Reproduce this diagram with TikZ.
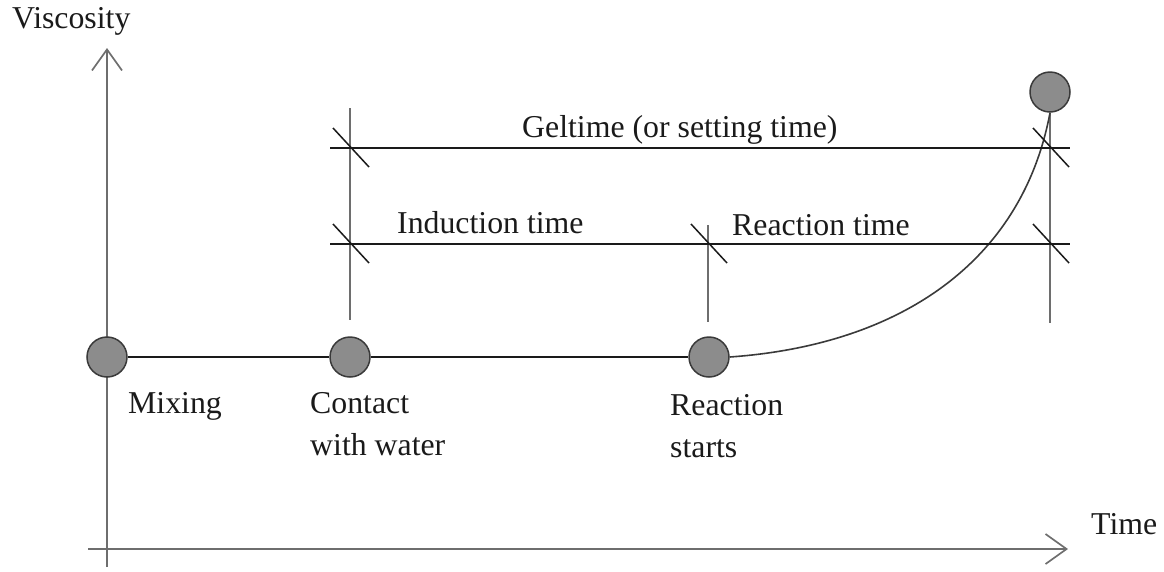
\documentclass[tikz,border=0pt]{standalone}
\usepackage{fontspec}
\setmainfont{Liberation Serif}
\usetikzlibrary{arrows.meta}
\definecolor{axisgray}{HTML}{6E6E6E}
\definecolor{dotfill}{HTML}{8C8C8C}
\definecolor{dotline}{HTML}{3A3A3A}
\definecolor{inkdark}{HTML}{1A1A1A}
\begin{document}
\begin{tikzpicture}[x=1pt,y=-1pt,
  axis/.style={draw=axisgray,line width=2pt,-{Straight Barb[length=21pt,width=30pt,line width=1.7pt]}},
  guide/.style={draw=axisgray,line width=2pt},
  dimline/.style={draw=inkdark,line width=1.5pt},
  tick/.style={draw=inkdark,line width=1.5pt},
  curveline/.style={draw=dotline,line width=1.6pt},
  event/.style={circle,fill=dotfill,draw=dotline,line width=1.5pt,minimum size=40pt,inner sep=0pt},
  lbl/.style={anchor=base west,inner sep=0pt,text=inkdark,font=\fontsize{31.8}{42}\selectfont}]
\useasboundingbox (0,0) rectangle (1164,571);
% axes
\coordinate (yb) at (107,567);
\coordinate (yt) at (107,48);
\coordinate (xl) at (88,549);
\coordinate (xr) at (1068,549);
\draw[axis] (yb) -- (yt);
\draw[axis] (xl) -- (xr);
\node[lbl] (vis) at (12,28) {Viscosity};
\node[lbl] (time) at (1091,534) {Time};
% guide verticals
\coordinate (cT) at (350,108);
\coordinate (cB) at (350,320);
\coordinate (rT) at (708,225);
\coordinate (rB) at (708,322);
\coordinate (gB) at (1050,323);
% event dots
\node[event] (mix) at (107,357) {};
\node[event] (con) at (350,357) {};
\node[event] (rea) at (709,357) {};
\node[event] (gel) at (1050,92) {};
\draw[guide] (cT) -- (cB);
\draw[guide] (rT) -- (rB);
\draw[guide] (gel.south) -- (gB);
% baseline and curve
\draw[dimline] (mix) -- (con) -- (rea);
\draw[curveline] (rea.east) .. controls (900,345) and (1022,262) .. (gel.south);
% dimension lines
\coordinate (g1) at (330,148);
\coordinate (g2) at (1070,148);
\coordinate (i1) at (330,244);
\coordinate (i2) at (1070,244);
\draw[dimline] (g1) -- (g2);
\draw[dimline] (i1) -- (i2);
% ticks
\coordinate (tg1) at (350,148);
\coordinate (tg2) at (1050,148);
\coordinate (ti1) at (350,244);
\coordinate (ti2) at (708,244);
\coordinate (ti3) at (1050,244);
\foreach \p in {tg1,tg2,ti1,ti2,ti3}
  \draw[tick] ([shift={(-17,-20)}]\p) -- ([shift={(19,19)}]\p);
% labels
\node[lbl] (gelt) at (522,137) {Geltime (or setting time)};
\node[lbl] (indt) at (397,233) {Induction time};
\node[lbl] (reat) at (732,235) {Reaction time};
\node[lbl] (mixl) at (128,413) {Mixing};
\node[lbl] (conl1) at (310,413) {Contact};
\node[lbl] (conl2) at (310,455) {with water};
\node[lbl] (real1) at (670,415) {Reaction};
\node[lbl] (real2) at (670,457) {starts};
\end{tikzpicture}
\end{document}
